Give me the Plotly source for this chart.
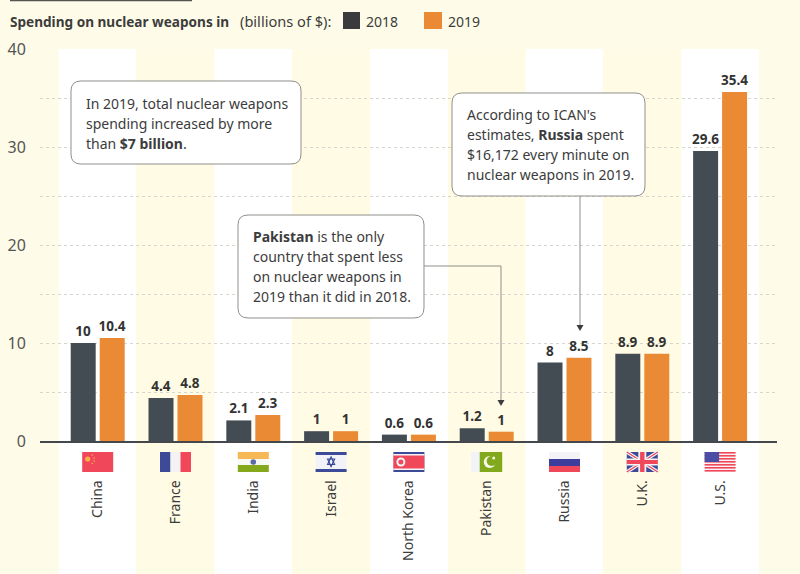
import plotly.graph_objects as go

countries = ["China", "France", "India", "Israel", "North Korea", "Pakistan", "Russia", "U.K.", "U.S."]
heights_2018 = [10, 4.4, 2.1, 1, 0.65, 1.3, 8, 8.9, 29.6]
heights_2019 = [10.5, 4.7, 2.65, 1, 0.65, 0.95, 8.5, 8.9, 35.6]
labels_2018 = ["10", "4.4", "2.1", "1", "0.6", "1.2", "8", "8.9", "29.6"]
labels_2019 = ["10.4", "4.8", "2.3", "1", "0.6", "1", "8.5", "8.9", "35.4"]

W, H = 800, 574
L, R, T, B = 40, 777, 49, 441
BG = "#fefce8"
BAND = "#fffbe4"
DARK = "#434b53"
ORANGE = "#ea8a34"
TXT = "#3c3c3c"
FONT = "Noto Sans"
LINE = "#8f8f8a"


def fx(px):
    return (px - L) / (R - L)


def fy(py):
    return (B - py) / (B - T)


fig = go.Figure()
for name, vals, labs, col in [("2018", heights_2018, labels_2018, DARK), ("2019", heights_2019, labels_2019, ORANGE)]:
    fig.add_bar(x=countries, y=vals, name=name, marker_color=col, marker_line_width=0,
                text=labs, textposition="outside", cliponaxis=False, textangle=0, constraintext="none",
                textfont=dict(family=FONT, size=13.5, color="#333333", weight=700), showlegend=False)

shapes = []
# alternating column bands
for i in range(len(countries)):
    shapes.append(dict(type="rect", xref="x", yref="paper", x0=i - 0.5, x1=i + 0.5,
                       y0=fy(574), y1=fy(T), fillcolor="#ffffff" if i % 2 == 0 else BAND,
                       line_width=0, layer="below"))

PX = dict(xref="x", yref="paper", xsizemode="pixel", ysizemode="pixel", yanchor=0, layer="above")


def rect_px(c, x0, x1, y0, y1, color):
    shapes.append(dict(type="rect", xanchor=c, x0=x0, x1=x1, y0=-y0, y1=-y1,
                       fillcolor=color, line_width=0, **PX))


def path_px(c, d, color, width=0, line=None):
    shapes.append(dict(type="path", xanchor=c, path=d, fillcolor=color,
                       line=dict(width=width, color=line or color), **PX))


def circle_px(c, cx, cy, r, color):
    shapes.append(dict(type="circle", xanchor=c, x0=cx - r, x1=cx + r, y0=-cy - r, y1=-cy + r,
                       fillcolor=color, line_width=0, **PX))


# flags: x offsets -16..15, y offsets 11..31 below the axis
RED, BLUE = "#f0475a", "#3c4a98"
x0, x1, y0, y1 = -15.5, 15.5, 11, 31
c = "China"
rect_px(c, x0, x1, y0, y1, RED)
circle_px(c, -10, 18, 2.6, "#f7b24a")
for dx, dy in [(-5.5, 14), (-3.5, 17), (-3.5, 20), (-5.5, 22.5)]:
    circle_px(c, dx, dy, 0.8, "#f7b24a")
c = "France"
rect_px(c, x0, -5, y0, y1, BLUE)
rect_px(c, -5, 5, y0, y1, "#f3f3f6")
rect_px(c, 5, x1, y0, y1, RED)
c = "India"
rect_px(c, x0, x1, y0, 18, "#f6b755")
rect_px(c, x0, x1, 18, 24, "#f8f8f4")
rect_px(c, x0, x1, 24, y1, "#86a81c")
circle_px(c, 0, 21, 2.8, "#5c6aa5")
c = "Israel"
rect_px(c, x0, x1, y0, y1, "#f2f3f8")
rect_px(c, x0, x1, y0, 14, BLUE)
rect_px(c, x0, x1, 28, y1, BLUE)
path_px(c, "M 0 -16 L 3.5 -23.5 L -3.5 -23.5 Z", "rgba(0,0,0,0)", 1.2, BLUE)
path_px(c, "M 0 -25.5 L 3.5 -18 L -3.5 -18 Z", "rgba(0,0,0,0)", 1.2, BLUE)
c = "North Korea"
rect_px(c, x0, x1, y0, y1, BLUE)
rect_px(c, x0, x1, 13, 29, "#f3f3f6")
rect_px(c, x0, x1, 14.5, 27.5, RED)
circle_px(c, -8, 21, 4.5, "#f5f5f5")
circle_px(c, -8, 21, 2.5, RED)
c = "Pakistan"
rect_px(c, x0, -7, y0, y1, "#f1f3f8")
rect_px(c, -7, x1, y0, y1, "#82a81c")
circle_px(c, 3, 21, 6, "#f5f7e8")
circle_px(c, 5, 20, 5, "#82a81c")
circle_px(c, 7, 17, 1.5, "#f5f7e8")
c = "Russia"
rect_px(c, x0, x1, y0, 18, "#f4f4f8")
rect_px(c, x0, x1, 18, 25, "#3c3d9c")
rect_px(c, x0, x1, 25, y1, RED)
c = "U.K."
rect_px(c, x0, x1, y0, y1, BLUE)
for w, col in [(3.5, "#f3f3f6"), (1.2, RED)]:
    path_px(c, f"M {x0} {-y0} L {x1} {-y1}", "rgba(0,0,0,0)", w, col)
    path_px(c, f"M {x0} {-y1} L {x1} {-y0}", "rgba(0,0,0,0)", w, col)
rect_px(c, -4, 4, y0, y1, "#f3f3f6")
rect_px(c, x0, x1, 17.5, 24.5, "#f3f3f6")
rect_px(c, -2.2, 2.2, y0, y1, RED)
rect_px(c, x0, x1, 19, 23, RED)
c = "U.S."
rect_px(c, x0, x1, y0, y1, "#f7f3f4")
for k in range(7):
    rect_px(c, x0, x1, y0 + k * 3, y0 + k * 3 + 1.6, RED)
rect_px(c, x0, -1, y0, 21, "#4a4fa5")


def rounded(x0, y0, x1, y1, r=10):
    pts = [("M", x0 + r, y0), ("L", x1 - r, y0), ("Q", x1, y0, x1, y0 + r), ("L", x1, y1 - r),
           ("Q", x1, y1, x1 - r, y1), ("L", x0 + r, y1), ("Q", x0, y1, x0, y1 - r),
           ("L", x0, y0 + r), ("Q", x0, y0, x0 + r, y0)]
    out = []
    for p in pts:
        vals = p[1:]
        coords = [f"{fx(vals[i]):.5f} {fy(vals[i + 1]):.5f}" for i in range(0, len(vals), 2)]
        out.append(p[0] + " " + " ".join(coords))
    return " ".join(out) + " Z"


def paper_line(pts):
    return "M " + " L ".join(f"{fx(a):.5f} {fy(b):.5f}" for a, b in pts)


# connector lines and arrow heads
shapes.append(dict(type="path", xref="paper", yref="paper", line=dict(color=LINE, width=1),
                   path=paper_line([(424, 266), (501, 266), (501, 402)]), layer="above"))
shapes.append(dict(type="path", xref="paper", yref="paper", line=dict(color=LINE, width=1),
                   path=paper_line([(580, 196), (580, 326)]), layer="above"))
for ax, ay in [(501, 406), (580, 331)]:
    shapes.append(dict(type="path", xref="paper", yref="paper", line_width=0, fillcolor="#3c3c3c",
                       path=paper_line([(ax - 3.5, ay - 6), (ax + 3.5, ay - 6), (ax, ay)]) + " Z",
                       layer="above"))

# callout boxes
boxes = [((71, 81, 301, 164), ["In 2019, total nuclear weapons", "spending increased by more", "than <b>$7 billion</b>."], 85, 103),
         ((452, 93, 645, 196), ["According to ICAN's", "estimates, <b>Russia</b> spent", "$16,172 every minute on", "nuclear weapons in 2019."], 466, 114),
         ((238, 215, 424, 318), ["<b>Pakistan</b> is the only", "country that spent less", "on nuclear weapons in", "2019 than it did in 2018."], 252, 236)]
annotations = []
for (bx0, by0, bx1, by1), lines, tx, ty in boxes:
    shapes.append(dict(type="path", xref="paper", yref="paper", path=rounded(bx0, by0, bx1, by1),
                       fillcolor="#ffffff", line=dict(color=LINE, width=1), layer="above"))
    for k, text in enumerate(lines):
        annotations.append(dict(xref="paper", yref="paper", x=fx(tx - 1), y=fy(ty + k * 20.2), xanchor="left",
                                yanchor="middle", showarrow=False, align="left", text=text,
                                font=dict(family=FONT, size=14, color=TXT)))

# header
shapes.append(dict(type="line", xref="paper", yref="paper", x0=fx(10), x1=fx(192), y0=fy(0.5), y1=fy(0.5),
                   line=dict(color="#55554f", width=1.5), layer="above"))
shapes.append(dict(type="rect", xref="paper", yref="paper", x0=fx(343), x1=fx(360), y0=fy(12), y1=fy(29),
                   fillcolor="#3b3b3d", line_width=0, layer="above"))
shapes.append(dict(type="rect", xref="paper", yref="paper", x0=fx(424), x1=fx(442), y0=fy(12), y1=fy(29),
                   fillcolor=ORANGE, line_width=0, layer="above"))
for lx, t, size in [(8, "<b>Spending on nuclear weapons in</b>", 13.6), (238, "(billions of $):", 14.6),
                    (364, "2018", 14), (446, "2019", 14)]:
    annotations.append(dict(xref="paper", yref="paper", x=fx(lx), y=fy(21), xanchor="left", yanchor="middle",
                            showarrow=False, text=t, font=dict(family=FONT, size=size, color=TXT)))

spacing = 77.8
c0 = 97.7
fig.update_layout(
    width=W, height=H, barmode="group", bargap=0.255, bargroupgap=0.138,
    margin=dict(l=L, r=W - R, t=T, b=H - B, pad=0, autoexpand=False),
    paper_bgcolor=BG, plot_bgcolor="rgba(0,0,0,0)",
    shapes=shapes, annotations=annotations,
    font=dict(family=FONT, color=TXT),
    xaxis=dict(type="category", categoryorder="array", categoryarray=countries, automargin=False,
               range=[(L - c0) / spacing, (R - c0) / spacing],
               showgrid=False, showline=True, linecolor="#44484c", linewidth=1.5,
               ticks="outside", ticklen=32, tickcolor="rgba(0,0,0,0)", tickangle=-90,
               tickfont=dict(family=FONT, size=14, color=TXT), zeroline=False),
    yaxis=dict(range=[0, 40], tick0=0, dtick=10, showgrid=True, gridcolor="#d6d6ce", griddash="dot",
               gridwidth=1, minor=dict(dtick=5, showgrid=True, gridcolor="#d6d6ce", griddash="dot", gridwidth=1),
               ticks="outside", ticklen=10, automargin=False, tickcolor="rgba(0,0,0,0)",
               tickfont=dict(family=FONT, size=16, color="#555555"), zeroline=False, showline=False),
)
fig.write_html("out.html", config={"displayModeBar": False},
               post_script="document.body.style.margin='0';document.body.style.background='#fefce8';")
